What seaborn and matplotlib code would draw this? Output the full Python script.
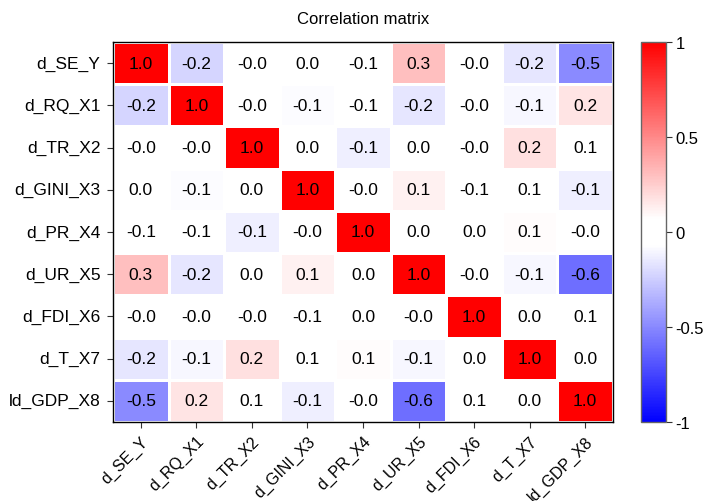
import numpy as np
import pandas as pd
import matplotlib
matplotlib.use("Agg")
import matplotlib.pyplot as plt
import seaborn as sns
from matplotlib.colors import LinearSegmentedColormap

labels = ["d_SE_Y", "d_RQ_X1", "d_TR_X2", "d_GINI_X3", "d_PR_X4",
          "d_UR_X5", "d_FDI_X6", "d_T_X7", "ld_GDP_X8"]

row_SE   = [1.00, -0.22, -0.02,  0.02, -0.06,  0.30, -0.02, -0.16, -0.50]
row_RQ   = [-0.22, 1.00, -0.02, -0.08, -0.06, -0.16, -0.02, -0.10,  0.17]
row_TR   = [-0.02, -0.02, 1.00,  0.02, -0.13,  0.02, -0.02,  0.18,  0.06]
row_GINI = [0.02, -0.08,  0.02,  1.00, -0.03,  0.12, -0.06,  0.06, -0.13]
row_PR   = [-0.06, -0.06, -0.13, -0.03, 1.00,  0.02,  0.02,  0.08, -0.02]
row_UR   = [0.30, -0.16,  0.02,  0.12,  0.02,  1.00, -0.02, -0.10, -0.60]
row_FDI  = [-0.02, -0.02, -0.02, -0.06, 0.02, -0.02,  1.00,  0.02,  0.06]
row_T    = [-0.16, -0.10,  0.18,  0.06,  0.08, -0.10,  0.02,  1.00,  0.02]
row_GDP  = [-0.50,  0.17,  0.06, -0.13, -0.02, -0.60,  0.06,  0.02,  1.00]

corr = pd.DataFrame([row_SE, row_RQ, row_TR, row_GINI, row_PR, row_UR,
                     row_FDI, row_T, row_GDP], index=labels, columns=labels)

plt.rcParams['font.family'] = ['Liberation Sans', 'DejaVu Sans']

cmap = LinearSegmentedColormap.from_list(
    "bwr_flat",
    [(0.0, (0, 0, 1)), (0.465, (1, 1, 1)), (0.535, (1, 1, 1)), (1.0, (1, 0, 0))])

fig = plt.figure(figsize=(7.05, 5.02), dpi=100)
W, H = 705, 502
ax = fig.add_axes([113 / W, 1 - 423 / H, 500 / W, 380 / H])
cax = fig.add_axes([641 / W, 1 - 423 / H, 25 / W, 380 / H])

sns.heatmap(corr, ax=ax, cbar_ax=cax, cmap=cmap, vmin=-1, vmax=1,
            annot=True, fmt=".1f", annot_kws={"size": 12.5, "color": "black"},
            linewidths=1, linecolor="white",
            cbar_kws={"ticks": [-1, -0.5, 0, 0.5, 1], "format": "%g"})

for s in ax.spines.values():
    s.set_visible(True)
    s.set_color("black")
    s.set_linewidth(1.0)

ax.set_title("Correlation matrix", fontsize=12, pad=14)
ax.tick_params(axis="y", length=4.5, width=0.8, pad=4.5, labelsize=12.5, color="#333333")
ax.tick_params(axis="x", length=4.5, width=0.8, pad=3.5, labelsize=11.5, color="#333333")
ax.set_xticklabels(labels, rotation=45, ha="right", rotation_mode="anchor")
ax.set_yticklabels(labels, rotation=0)
ax.set_xlabel("")
ax.set_ylabel("")

cax.tick_params(length=4, width=0.8, pad=3, labelsize=12, color="#333333")
cb = ax.collections[0].colorbar
cb.outline.set_edgecolor("#666666")
cb.outline.set_linewidth(1.0)

fig.savefig("out.png", dpi=100)
